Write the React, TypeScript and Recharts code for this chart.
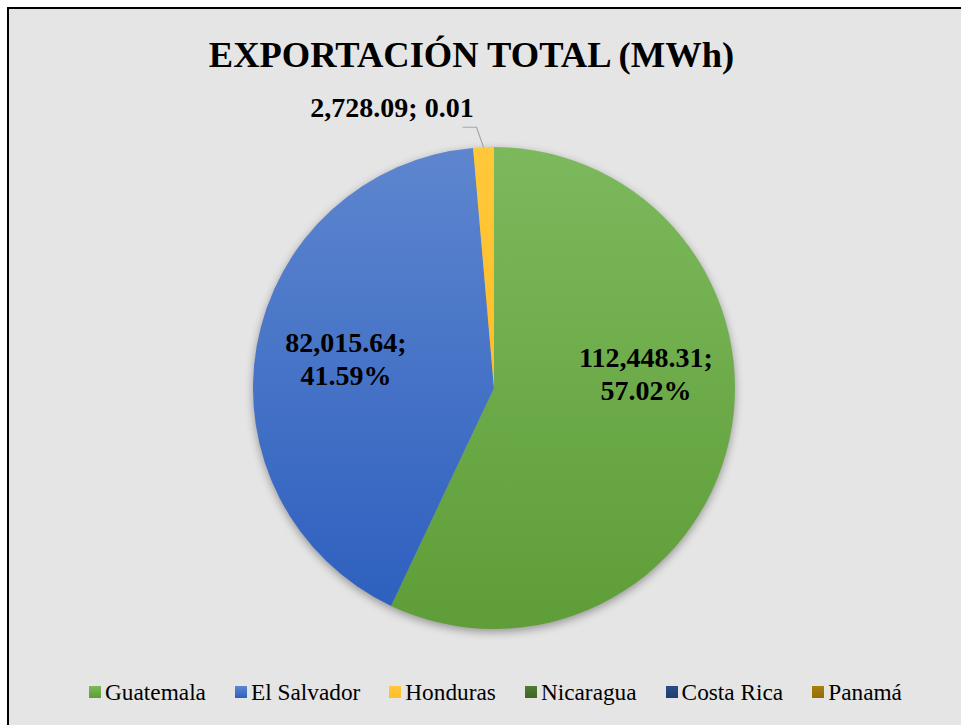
import { PieChart, Pie, Cell, Legend } from 'recharts';

const COUNTRIES = ['Guatemala', 'El Salvador', 'Honduras', 'Nicaragua', 'Costa Rica', 'Panamá'];
const EXPORT_MWH = [112448.31, 82015.64, 2728.09, 0, 0, 0];

const TITLE = 'EXPORTACIÓN TOTAL (MWh)';

const data = COUNTRIES.map((name, i) => ({ name, value: EXPORT_MWH[i] }));

// gradientes tipo Excel: claro arriba, oscuro abajo
const FILLS = [
  ['#7cb95d', '#5e9d37'],
  ['#5e86cf', '#2e60bf'],
  ['#ffc83a', '#ffbe28'],
  ['#4f7c31', '#3f6426'],
  ['#2a4b85', '#1f3c70'],
  ['#a97f10', '#946c00'],
];

// posición de las etiquetas respecto al centro del pastel
const LABEL_POS = [
  { dx: 152, dy: -21, inside: true },
  { dx: -148, dy: -36, inside: true },
  { dx: -102, dy: -271, inside: false },
];

const FONT = 'Liberation Serif';

const fmt = (v: number) =>
  v.toLocaleString('en-US', { minimumFractionDigits: 2, maximumFractionDigits: 2 });

const renderLabel = (props: any) => {
  const { cx, cy, index, value, percent, midAngle, outerRadius } = props;
  const pos = LABEL_POS[index];
  if (!pos || !value) return null;
  const x = cx + pos.dx;
  const y = cy + pos.dy;
  if (pos.inside) {
    return (
      <text x={x} y={y} textAnchor="middle" fontFamily={FONT} fontWeight="bold" fontSize={28} fill="#000">
        <tspan x={x}>{fmt(value)};</tspan>
        <tspan x={x} dy={33}>{(percent * 100).toFixed(2)}%</tspan>
      </text>
    );
  }
  const rad = Math.PI / 180;
  const px = cx + outerRadius * Math.cos(-midAngle * rad);
  const py = cy + outerRadius * Math.sin(-midAngle * rad);
  const ex = px - 7;
  const ey = py - 20;
  return (
    <g>
      <path d={`M${px},${py} L${ex},${ey} L${ex - 14},${ey}`} stroke="#a6a6a6" strokeWidth={1.2} fill="none" />
      <text x={x} y={y} textAnchor="middle" fontFamily={FONT} fontWeight="bold" fontSize={28} fill="#000">
        {fmt(value)}; {percent.toFixed(2)}
      </text>
    </g>
  );
};

const renderLegend = (props: any) => {
  const items = [...(props.payload || [])].sort(
    (a: any, b: any) => COUNTRIES.indexOf(a.value) - COUNTRIES.indexOf(b.value)
  );
  return (
    <div style={{ display: 'flex', justifyContent: 'center', alignItems: 'center', fontFamily: FONT, fontSize: 23.3, color: '#000' }}>
      {items.map((entry: any, i: number) => {
        const [c1, c2] = FILLS[COUNTRIES.indexOf(entry.value)];
        return (
          <div key={entry.value} style={{ display: 'flex', alignItems: 'center', marginRight: i < items.length - 1 ? 29 : 0 }}>
            <span style={{ width: 12, height: 12, marginRight: 4, background: `linear-gradient(${c1}, ${c2})`, display: 'inline-block' }} />
            <span style={{ lineHeight: '26px', fontFamily: FONT }}>{entry.value}</span>
          </div>
        );
      })}
    </div>
  );
};

// sombra suave bajo el pastel (solo el grupo de sectores, no las etiquetas)
const SHADOW_CSS =
  '.sombra g:has(> g.recharts-pie-sector), .sombra .recharts-pie-sectors { filter: drop-shadow(0px 3px 4px rgba(0,0,0,0.35)); }';

export default function App() {
  return (
    <div style={{ position: 'absolute', left: 0, top: 0, width: 961, height: 725, overflow: 'hidden', background: '#fff', fontFamily: FONT }}>
      <style>{SHADOW_CSS}</style>
      <div
        style={{
          position: 'absolute',
          left: 7,
          top: 7,
          width: 1000,
          height: 800,
          borderLeft: '2px solid #000',
          borderTop: '2px solid #000',
          background: '#e5e5e5',
        }}
      />
      <svg width={961} height={725} style={{ position: 'absolute', left: 0, top: 0 }}>
        <text x={471.5} y={67} textAnchor="middle" fontFamily={FONT} fontWeight="bold" fontSize={36.5} fill="#000">
          {TITLE}
        </text>
      </svg>
      <div className="sombra" style={{ position: 'absolute', left: 0, top: 0 }}>
        <PieChart width={961} height={725} margin={{ top: 0, right: 0, bottom: 0, left: 0 }}>
          <defs>
            {FILLS.map(([c1, c2], i) => (
              <linearGradient key={i} id={`grad-${i}`} x1="0" y1="0" x2="0" y2="1">
                <stop offset="0%" stopColor={c1} />
                <stop offset="100%" stopColor={c2} />
              </linearGradient>
            ))}
          </defs>
          <Pie
            data={data}
            dataKey="value"
            nameKey="name"
            cx={494}
            cy={388}
            outerRadius={241}
            startAngle={90}
            endAngle={-270}
            stroke="none"
            label={renderLabel}
            labelLine={false}
            isAnimationActive={false}
          >
            {data.map((entry, i) => (
              <Cell key={entry.name} fill={`url(#grad-${i})`} />
            ))}
          </Pie>
          <Legend content={renderLegend} wrapperStyle={{ top: 679, left: 15, width: 961 }} />
        </PieChart>
      </div>
    </div>
  );
}
